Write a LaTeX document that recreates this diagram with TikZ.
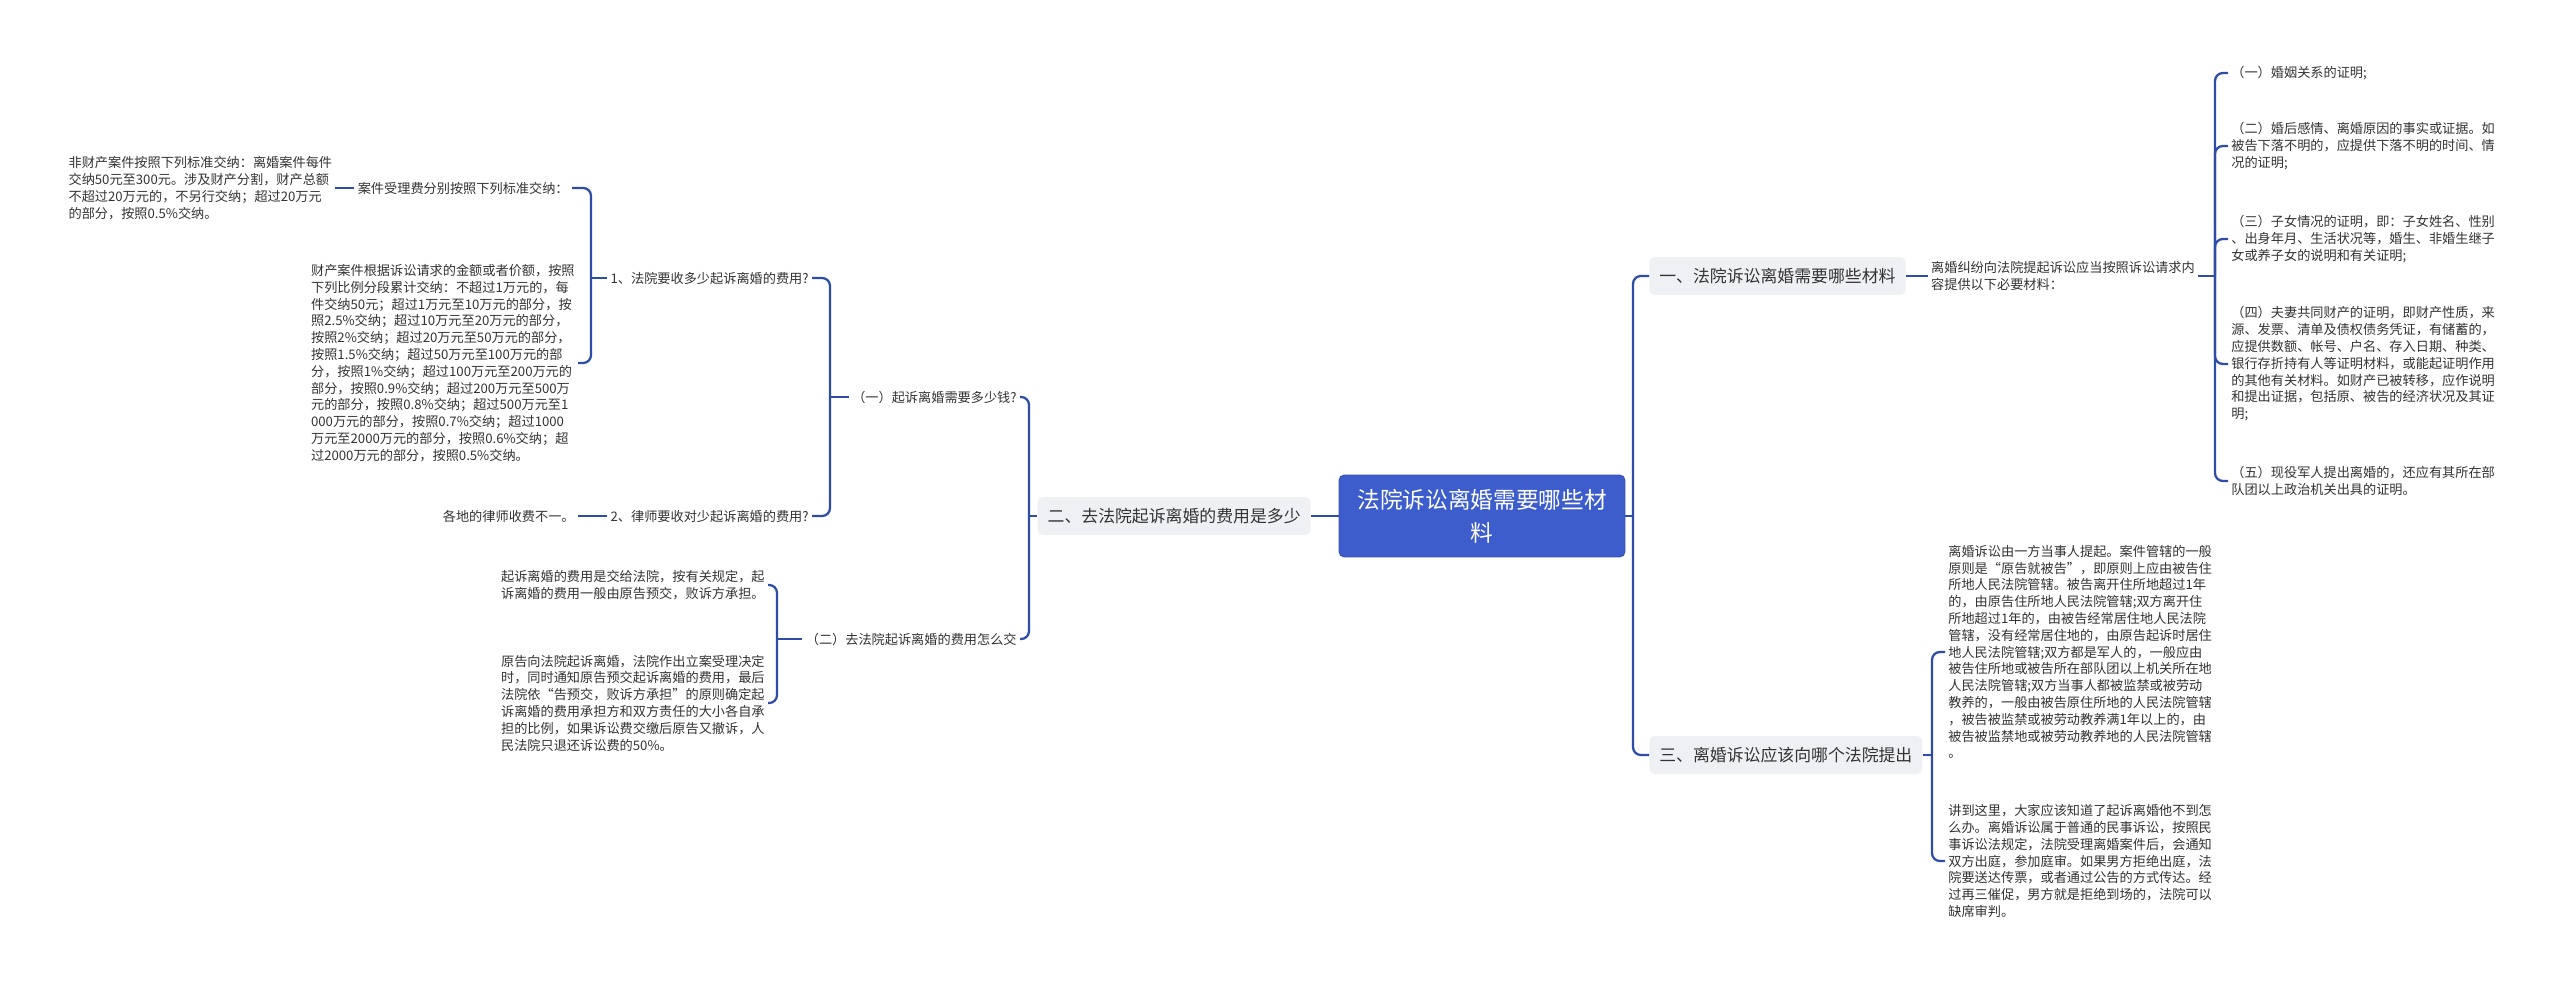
\documentclass[tikz,border=0pt]{standalone}
\usepackage{fontspec}
\setmainfont{Noto Sans CJK SC}
\usepackage{tikz}
\usetikzlibrary{positioning}
\definecolor{Ink}{HTML}{333333}
\definecolor{Wire}{HTML}{2D4DA6}
\definecolor{RootBlue}{HTML}{3D5DCC}
\definecolor{TopicGray}{HTML}{EEF0F4}
\tikzset{
  rootbox/.style={draw=RootBlue!85!black,fill=RootBlue,rounded corners=3pt,text=white,align=center,minimum width=5.72cm,minimum height=1.64cm,font=\fontsize{12.9}{18.8}\selectfont,line width=0.5pt},
  topicbox/.style={fill=TopicGray,rounded corners=3pt,text=Ink,inner xsep=0.2cm,minimum height=0.76cm,font=\fontsize{9.6}{12}\selectfont},
  leaf/.style={text=Ink,align=left,inner xsep=0.06cm,inner ysep=1pt,font=\fontsize{7.5}{9.56}\selectfont},
  link/.style={draw=Wire,line width=1.3pt,rounded corners=4.5pt}
}
\begin{document}
\begin{tikzpicture}[x=0.02cm,y=-0.02cm]
\useasboundingbox[fill=white] (0,0) rectangle (2560,983);
\node[rootbox] (root) at (1482,516) {法院诉讼离婚需要哪些材\\料};
\node[topicbox,anchor=east] (two) at (1311,516) {二、去法院起诉离婚的费用是多少};
\node[topicbox,anchor=west] (one) at (1649,276) {一、法院诉讼离婚需要哪些材料};
\node[topicbox,anchor=west] (three) at (1649,755) {三、离婚诉讼应该向哪个法院提出};
\coordinate (tR) at (1633,0);\coordinate (tTwo) at (1029,0);\coordinate (tSub1) at (830,0);\coordinate (tQ1) at (591,0);
\coordinate (tSub2) at (777,0);\coordinate (tIntro) at (2215,0);\coordinate (tThree) at (1932,0);
\node[leaf,anchor=east] (sub1) at (1020,397) {（一）起诉离婚需要多少钱?};
\node[leaf,anchor=east] (sub2) at (1020,639) {（二）去法院起诉离婚的费用怎么交};
\node[leaf,anchor=east] (q1) at (812,278) {1、法院要收多少起诉离婚的费用?};
\node[leaf,anchor=east] (q2) at (812,516) {2、律师要收对少起诉离婚的费用?};
\node[leaf,anchor=east] (fee) at (572,188) {案件受理费分别按照下列标准交纳：};
\node[leaf,left=0.38cm of fee] (nofee) {非财产案件按照下列标准交纳：离婚案件每件\\交纳50元至300元。涉及财产分割，财产总额\\不超过20万元的，不另行交纳；超过20万元\\的部分，按照0.5\%交纳。};
\node[leaf,anchor=east] (propfee) at (578,363) {财产案件根据诉讼请求的金额或者价额，按照\\下列比例分段累计交纳：不超过1万元的，每\\件交纳50元；超过1万元至10万元的部分，按\\照2.5\%交纳；超过10万元至20万元的部分，\\按照2\%交纳；超过20万元至50万元的部分，\\按照1.5\%交纳；超过50万元至100万元的部\\分，按照1\%交纳；超过100万元至200万元的\\部分，按照0.9\%交纳；超过200万元至500万\\元的部分，按照0.8\%交纳；超过500万元至1\\000万元的部分，按照0.7\%交纳；超过1000\\万元至2000万元的部分，按照0.6\%交纳；超\\过2000万元的部分，按照0.5\%交纳。};
\node[leaf,anchor=east] (lawyer) at (578,516) {各地的律师收费不一。};
\node[leaf,anchor=east] (pay1) at (768,585) {起诉离婚的费用是交给法院，按有关规定，起\\诉离婚的费用一般由原告预交，败诉方承担。};
\node[leaf,anchor=east] (pay2) at (768,703) {原告向法院起诉离婚，法院作出立案受理决定\\时，同时通知原告预交起诉离婚的费用，最后\\法院依“告预交，败诉方承担”的原则确定起\\诉离婚的费用承担方和双方责任的大小各自承\\担的比例，如果诉讼费交缴后原告又撤诉，人\\民法院只退还诉讼费的50\%。};
\node[leaf,right=0.44cm of one] (intro) {离婚纠纷向法院提起诉讼应当按照诉讼请求内\\容提供以下必要材料：};
\node[leaf,anchor=west] (m1) at (2228,73) {（一）婚姻关系的证明;};
\node[leaf,anchor=west] (m2) at (2228,146) {（二）婚后感情、离婚原因的事实或证据。如\\被告下落不明的，应提供下落不明的时间、情\\况的证明;};
\node[leaf,anchor=west] (m3) at (2228,239) {（三）子女情况的证明，即：子女姓名、性别\\、出身年月、生活状况等，婚生、非婚生继子\\女或养子女的说明和有关证明;};
\node[leaf,anchor=west] (m4) at (2228,364) {（四）夫妻共同财产的证明，即财产性质，来\\源、发票、清单及债权债务凭证，有储蓄的，\\应提供数额、帐号、户名、存入日期、种类、\\银行存折持有人等证明材料，或能起证明作用\\的其他有关材料。如财产已被转移，应作说明\\和提出证据，包括原、被告的经济状况及其证\\明;};
\node[leaf,anchor=west] (m5) at (2228,481) {（五）现役军人提出离婚的，还应有其所在部\\队团以上政治机关出具的证明。};
\node[leaf,anchor=west] (court) at (1945,652) {离婚诉讼由一方当事人提起。案件管辖的一般\\原则是“原告就被告”，即原则上应由被告住\\所地人民法院管辖。被告离开住所地超过1年\\的，由原告住所地人民法院管辖;双方离开住\\所地超过1年的，由被告经常居住地人民法院\\管辖，没有经常居住地的，由原告起诉时居住\\地人民法院管辖;双方都是军人的，一般应由\\被告住所地或被告所在部队团以上机关所在地\\人民法院管辖;双方当事人都被监禁或被劳动\\教养的，一般由被告原住所地的人民法院管辖\\，被告被监禁或被劳动教养满1年以上的，由\\被告被监禁地或被劳动教养地的人民法院管辖\\。};
\node[leaf,anchor=west] (absent) at (1945,861) {讲到这里，大家应该知道了起诉离婚他不到怎\\么办。离婚诉讼属于普通的民事诉讼，按照民\\事诉讼法规定，法院受理离婚案件后，会通知\\双方出庭，参加庭审。如果男方拒绝出庭，法\\院要送达传票，或者通过公告的方式传达。经\\过再三催促，男方就是拒绝到场的，法院可以\\缺席审判。};
\draw[link] (root.west)--(two.east);
\draw[link] (root.east)--(root.east -| tR);\draw[link] (root.east -| tR) |- (one.west);\draw[link] (root.east -| tR) |- (three.west);
\draw[link] (two.west)--(two.west -| tTwo);\draw[link] (two.west -| tTwo) |- (sub1.east);\draw[link] (two.west -| tTwo) |- (sub2.east);
\draw[link] (sub1.west)--(sub1.west -| tSub1);\draw[link] (sub1.west -| tSub1) |- (q1.east);\draw[link] (sub1.west -| tSub1) |- (q2.east);
\draw[link] (q1.west)--(q1.west -| tQ1);\draw[link] (q1.west -| tQ1) |- (fee.east);\draw[link] (q1.west -| tQ1) |- (propfee.east);
\draw[link] (fee.west)--(nofee.east);\draw[link] (q2.west)--(lawyer.east);
\draw[link] (sub2.west)--(sub2.west -| tSub2);\draw[link] (sub2.west -| tSub2) |- (pay1.east);\draw[link] (sub2.west -| tSub2) |- (pay2.east);
\draw[link] (one.east)--(intro.west);
\draw[link] (intro.east)--(intro.east -| tIntro);
\foreach \m in {m1,m2,m3,m4,m5} \draw[link] (intro.east -| tIntro) |- (\m.west);
\draw[link] (three.east)--(three.east -| tThree);\draw[link] (three.east -| tThree) |- (court.west);\draw[link] (three.east -| tThree) |- (absent.west);
\end{tikzpicture}
\end{document}
